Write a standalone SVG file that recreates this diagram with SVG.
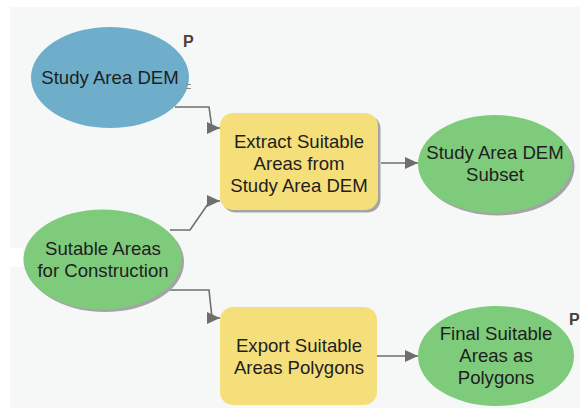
<svg xmlns="http://www.w3.org/2000/svg" width="580" height="415" viewBox="0 0 580 415">
  <style>
    .lbl { font-family: "Liberation Sans", Arial, sans-serif; font-size: 18.6px; fill: #1e1e1e; text-anchor: middle; }
    .flag { font-family: "Liberation Sans", Arial, sans-serif; font-size: 16px; font-weight: bold; fill: #4a4038; }
    .data-in { fill: #6eaecb; }
    .data-out { fill: #7ecb7b; }
    .tool { fill: #f5df7a; }
    .shadow { fill: #a4a4a4; }
    .conn { fill: none; stroke: #6e6e6e; stroke-width: 1.6; marker-end: url(#arrow); }
  </style>
  <defs>
    <marker id="arrow" viewBox="0 0 13 12" refX="13" refY="6" markerWidth="13" markerHeight="12" markerUnits="userSpaceOnUse" orient="auto">
      <path d="M0,0 L13,6 L0,12 Z" fill="#6e6e6e"/>
    </marker>
  </defs>

  <!-- canvas -->
  <rect x="0" y="0" width="580" height="415" fill="#ffffff"/>
  <rect x="10" y="7" width="570" height="401" fill="#f6f8f8"/>
  <rect x="10" y="248" width="13" height="19" fill="#ffffff"/>

  <!-- connectors -->
  <g id="connectors">
    <path class="conn" d="M175,107 H209 L212,128 H220"/>
    <path class="conn" d="M170,230 H190 L210,201 H220"/>
    <path class="conn" d="M165,290 H209 L212,318 H220"/>
    <path class="conn" d="M381,163 H418"/>
    <path class="conn" d="M377,356 H418"/>
  </g>

  <!-- input data -->
  <g id="study-area-dem">
    <ellipse class="data-in" cx="110" cy="77.5" rx="79" ry="50.5"/>
    <text class="lbl" x="110" y="84">Study Area DEM</text>
    <text class="flag" x="183" y="47">P</text>
    <path d="M186,84.5 H191 M186,88.5 H191" stroke="#8a8a8a" stroke-width="1"/>
  </g>

  <g id="suitable-areas">
    <ellipse class="shadow" cx="105" cy="262" rx="79" ry="50"/>
    <ellipse class="data-out" cx="102.5" cy="259.5" rx="79" ry="50"/>
    <text class="lbl" x="103" y="255">Sutable Areas</text>
    <text class="lbl" x="103" y="277">for Construction</text>
  </g>

  <!-- tools -->
  <g id="extract-tool">
    <rect class="shadow" x="222.5" y="115.5" width="158" height="97" rx="13"/>
    <rect class="tool" x="220" y="113" width="158" height="97" rx="13"/>
    <text class="lbl" x="299" y="148">Extract Suitable</text>
    <text class="lbl" x="299" y="170">Areas from</text>
    <text class="lbl" x="299" y="192">Study Area DEM</text>
  </g>

  <g id="export-tool">
    <rect class="tool" x="220" y="307" width="157" height="98" rx="13"/>
    <text class="lbl" x="299" y="352">Export Suitable</text>
    <text class="lbl" x="299" y="374">Areas Polygons</text>
  </g>

  <!-- output data -->
  <g id="dem-subset">
    <ellipse class="shadow" cx="497.5" cy="166.5" rx="77" ry="49"/>
    <ellipse class="data-out" cx="495" cy="164" rx="77" ry="49"/>
    <text class="lbl" x="495" y="159">Study Area DEM</text>
    <text class="lbl" x="495" y="181">Subset</text>
  </g>

  <g id="final-polygons">
    <ellipse class="data-out" cx="496" cy="356" rx="78" ry="50"/>
    <text class="lbl" x="496" y="340">Final Suitable</text>
    <text class="lbl" x="496" y="362">Areas as</text>
    <text class="lbl" x="496" y="384">Polygons</text>
    <text class="flag" x="569" y="325">P</text>
  </g>
</svg>
